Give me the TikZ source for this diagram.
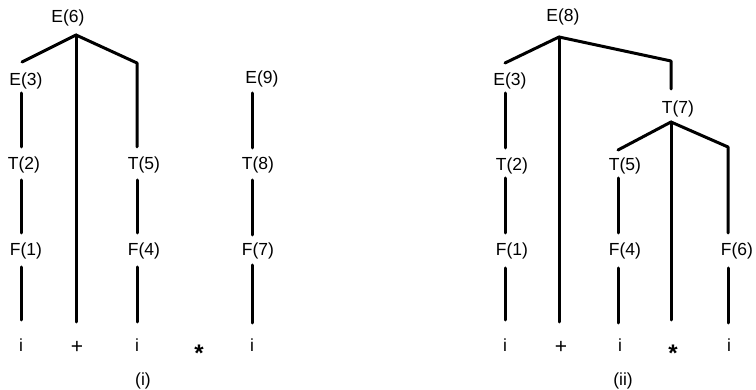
\documentclass[tikz,border=0pt]{standalone}
\usepackage{fontspec}
\setmainfont{Liberation Sans}
\begin{document}
\begin{tikzpicture}[x=1pt,y=-1pt,
  lbl/.style={font=\fontsize{17.5}{20}\selectfont, inner sep=0pt, anchor=base},
  sym/.style={font=\fontsize{21}{24}\selectfont, inner sep=0pt, anchor=base},
  star/.style={font=\fontsize{24}{26}\selectfont\bfseries, inner sep=0pt, anchor=base},
  edge/.style={line width=3pt, line cap=round, line join=round}]
\useasboundingbox (0,0) rectangle (756,390);
% ---------------- tree (i) ----------------
\node[lbl] (iE6) at (68,23) {E(6)};
\node[lbl] (iE3) at (26,86) {E(3)};
\node[lbl] (iT2) at (24,170) {T(2)};
\node[lbl] (iF1) at (26,256) {F(1)};
\node[lbl] (iT5) at (144,170) {T(5)};
\node[lbl] (iF4) at (144,256) {F(4)};
\node[lbl] (iE9) at (262,84) {E(9)};
\node[lbl] (iT8) at (258,170) {T(8)};
\node[lbl] (iF7) at (258,256) {F(7)};
\node[lbl] (ia) at (21,352) {i};
\node[sym] (iplus) at (77,354) {+};
\node[lbl] (ib) at (137,352) {i};
\node[star] (istar) at (199,362) {*};
\node[lbl] (ic) at (252,352) {i};
\node[lbl] (icap) at (143,386) {(i)};
\coordinate (iA) at (76,35);
\coordinate (iL) at (22,62);
\coordinate (iR) at (137,63);
\coordinate (iRb) at (137,147);
\coordinate (iM) at (76,322);
\coordinate (iE3a) at (21,93);  \coordinate (iE3b) at (21,147);
\coordinate (iT2a) at (21,180); \coordinate (iT2b) at (21,233);
\coordinate (iF1a) at (21,267); \coordinate (iF1b) at (21,320);
\coordinate (iT5a) at (137,180); \coordinate (iT5b) at (137,233);
\coordinate (iF4a) at (137,267); \coordinate (iF4b) at (137,322);
\coordinate (iE9a) at (252,93); \coordinate (iE9b) at (252,148);
\coordinate (iT8a) at (252,180); \coordinate (iT8b) at (252,235);
\coordinate (iF7a) at (252,265); \coordinate (iF7b) at (252,323);
\draw[edge] (iL) -- (iA) -- (iR) -- (iRb);
\draw[edge] (iA) -- (iM);
\draw[edge] (iE3a) -- (iE3b);
\draw[edge] (iT2a) -- (iT2b);
\draw[edge] (iF1a) -- (iF1b);
\draw[edge] (iT5a) -- (iT5b);
\draw[edge] (iF4a) -- (iF4b);
\draw[edge] (iE9a) -- (iE9b);
\draw[edge] (iT8a) -- (iT8b);
\draw[edge] (iF7a) -- (iF7b);
% ---------------- tree (ii) ----------------
\node[lbl] (jE8) at (563,22) {E(8)};
\node[lbl] (jE3) at (510,86) {E(3)};
\node[lbl] (jT2) at (512,171) {T(2)};
\node[lbl] (jF1) at (512,256) {F(1)};
\node[lbl] (jT7) at (678,114) {T(7)};
\node[lbl] (jT5) at (625,171) {T(5)};
\node[lbl] (jF4) at (625,256) {F(4)};
\node[lbl] (jF6) at (737,256) {F(6)};
\node[lbl] (ja) at (505,352) {i};
\node[sym] (jplus) at (561,354) {+};
\node[lbl] (jb) at (620,352) {i};
\node[star] (jstar) at (673,362) {*};
\node[lbl] (jc) at (729,352) {i};
\node[lbl] (jcap) at (623,386) {(ii)};
\coordinate (jA) at (559,37);
\coordinate (jL) at (505,63);
\coordinate (jR) at (671,61);
\coordinate (jRb) at (671,89);
\coordinate (jM) at (559,322);
\coordinate (jE3a) at (505,93);  \coordinate (jE3b) at (505,148);
\coordinate (jT2a) at (505,178); \coordinate (jT2b) at (505,233);
\coordinate (jF1a) at (505,268); \coordinate (jF1b) at (505,320);
\coordinate (jB) at (671,122);
\coordinate (jBL) at (618,150);
\coordinate (jBR) at (728,147);
\coordinate (jBRb) at (728,233);
\coordinate (jBM) at (671,320);
\coordinate (jT5a) at (618,178); \coordinate (jT5b) at (618,233);
\coordinate (jF4a) at (618,268); \coordinate (jF4b) at (618,323);
\coordinate (jF6a) at (728,268); \coordinate (jF6b) at (728,323);
\draw[edge] (jL) -- (jA) -- (jR) -- (jRb);
\draw[edge] (jA) -- (jM);
\draw[edge] (jE3a) -- (jE3b);
\draw[edge] (jT2a) -- (jT2b);
\draw[edge] (jF1a) -- (jF1b);
\draw[edge] (jBL) -- (jB) -- (jBR) -- (jBRb);
\draw[edge] (jB) -- (jBM);
\draw[edge] (jT5a) -- (jT5b);
\draw[edge] (jF4a) -- (jF4b);
\draw[edge] (jF6a) -- (jF6b);
\end{tikzpicture}
\end{document}
